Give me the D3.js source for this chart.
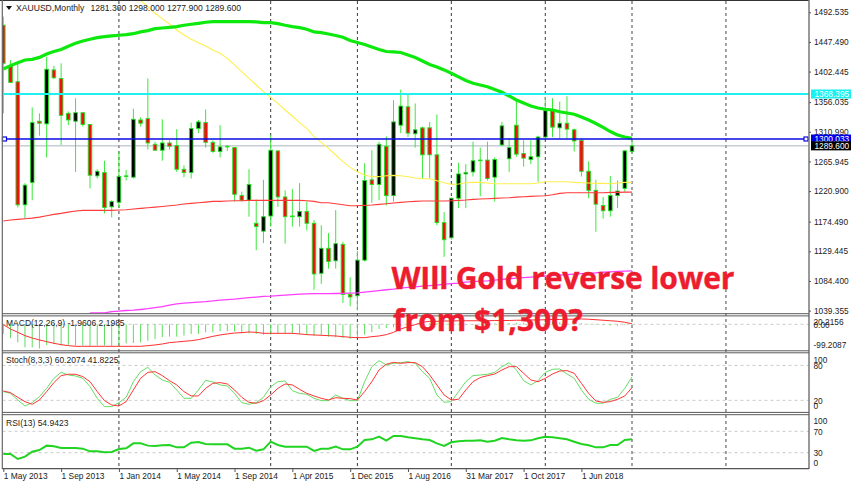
<!DOCTYPE html>
<html><head><meta charset="utf-8">
<script src="https://cdn.jsdelivr.net/npm/d3@7"></script>
<style>
html,body{margin:0;padding:0;background:#fff;overflow:hidden}
svg{display:block}
text{font-family:"Liberation Sans",Arial,sans-serif;fill:#222}
</style></head><body>
<svg id="c" width="852" height="485"></svg>
<script>
// ---- data ----
const opens=[1473,1411,1387,1200,1234,1327,1323,1405,1392,1339,
1327,1340,1322,1244,1249,1197,1204,1243,1242,1329,
1331,1292,1283,1294,1290,1254,1249,1316,1325,1295,
1281,1288,1287,1214,1207,1172,1160,1183,1282,1212,
1182,1182,1190,1172,1096,1134,1115,1140,1064,1062,
1116,1238,1231,1289,1214,1321,1349,1308,1317,1317,
1276,1173,1150,1210,1247,1250,1267,1268,1242,1291,
1270,1321,1278,1269,1273,1303,1344,1317,1324,1314,
1298,1251,1222,1199,1191,1214,1225,1281.3];
const closes=[1415,1386,1200,1230,1325,1324,1406,1393,1336,1329,
1340,1322,1245,1251,1196,1205,1243,1244,1330,1324,
1294,1283,1294,1289,1254,1249,1316,1326,1295,1281,
1288,1289,1216,1207,1231,1167,1182,1283,1212,1182,
1183,1190,1172,1095,1134,1114,1141,1064,1060,1116,
1237,1231,1292,1214,1326,1350,1309,1314,1276,1276,
1173,1147,1210,1247,1249,1267,1268,1240,1269,1320,
1287,1277,1271,1273,1303,1343,1318,1324,1315,1297,
1251,1222,1201,1191,1214,1221,1282,1289.6];
const highs=[1486,1420,1418,1233,1348,1339,1425,1411,1415,1342,
1362,1340,1323,1254,1267,1207,1281,1253,1346,1333,
1392,1296,1330,1298,1315,1260,1325,1329,1345,1298,
1321,1291,1288,1220,1254,1208,1238,1306,1282,1222,
1224,1233,1205,1177,1169,1157,1192,1144,1090,1130,
1263,1283,1296,1304,1359,1375,1367,1354,1319,1326,
1337,1189,1211,1264,1262,1296,1287,1296,1272,1326,
1301,1357,1298,1298,1305,1364,1362,1357,1365,1316,
1301,1266,1238,1212,1244,1237,1283,1298];
const lows=[1339,1385,1196,1179,1207,1305,1272,1391,1291,1321,
1250,1319,1225,1240,1187,1181,1195,1237,1240,1319,
1284,1282,1267,1284,1250,1242,1240,1309,1287,1279,
1272,1282,1205,1205,1182,1131,1142,1167,1197,1141,
1167,1167,1161,1071,1080,1103,1103,1051,1046,1040,
1114,1203,1207,1199,1205,1309,1303,1287,1240,1240,
1169,1121,1147,1195,1195,1243,1213,1237,1205,1289,
1250,1273,1258,1262,1235,1301,1303,1301,1301,1281,
1243,1210,1159,1179,1182,1195,1220,1277.9];
const maLime=[1406.4,1411.5,1416,1420,1421,1424,1429,1433,1436,1441,
1445.4,1449,1451.5,1454,1455.6,1456.6,1457.6,1458.6,1460,1462.7,
1464.7,1467.7,1468.7,1469.7,1470.8,1472.8,1474.3,1475.8,1477.4,1478.4,
1478.4,1478.4,1478.4,1478.4,1478.4,1477.9,1476.9,1476.9,1475.3,1472.8,
1470.8,1469.2,1466.7,1462.7,
1461.6,1459.6,1457.3,1454.6,1449.7,1446.7,1443.7,1439.9,1436,1433,
1432.3,1431.5,1427.7,1423.9,1418.6,1413.3,1409.5,1405,1399.9,1394.3,
1389,1384.7,1382.1,1379.5,1375.3,1371,1365.4,1359.3,1354.7,1350.2,
1347.1,1345.2,1344.1,1341.5,1339.5,1337.6,1333.5,1328.9,1323.6,1317.8,
1311.4,1306.1,1303,1301.1];
const maYellow=[null,null,null,null,null,null,null,null,null,null,
null,null,null,null,null,null,null,null,null,1510.3,
1501.2,1491,1482.9,1474.8,1465.7,1458.1,1451.5,1446.4,1441.4,1435.3,
1430.2,1422.6,1412.5,1402.4,1392.2,1382.1,1372,1363.3,1354.2,1344.1,
1335,1324.8,1316.2,1303.5,
1295,1285.8,1275.7,1265.6,1256.9,1250.4,1245.3,1242.8,1242.8,1244.3,
1244.8,1244.3,1242.8,1240.7,1239.7,1239.7,1236.7,1233.6,1231.1,1231.6,
1233.6,1234.1,1234.1,1233.1,1232.1,1232.1,1232.1,1232.1,1232.1,1232.1,
1233.1,1235.2,1235.2,1235.2,1235.2,1234.1,1233.6,1233.1,1232.6,1232.6,
1232.1,1233.1,1234.1,1234.1];
const maRed=[1175.4,1176.9,1177.9,1178.9,1179.9,1181.4,1183.5,1185.5,1187,1189,
1190.6,1191.6,1191.6,1191.6,1191.6,1191.6,1192.1,1192.6,1193.6,1194.6,
1195.6,1196.6,1197.6,1198.7,1199.7,1201.2,1202.2,1203.2,1204.2,1205.3,
1205.3,1205.8,1206.3,1206.3,1206.8,1206.8,1206.8,1206.8,1206.8,1206.8,
1206.8,1206.8,1206.3,1205.3,
1203.2,1203.2,1201.7,1200.2,1198.7,1198.7,1199.2,1199.7,1200.7,1201.7,
1202.7,1203.7,1204.8,1205.3,1205.8,1205.8,1205.8,1205.8,1206.3,1206.8,
1207.3,1208.3,1208.8,1209.3,1209.8,1210.3,1210.8,1211.8,1212.4,1212.9,
1213.4,1213.9,1215.4,1217.4,1218.4,1218.4,1218.4,1218.4,1218.4,1218.4,
1218.9,1218.9,1219.4,1219.4];
const maMagenta=[null,null,null,null,null,null,null,null,null,null,null,null,
1036,1036,1036,1037.7,1038.6,1039.5,1040,1041,
1042.2,1043.9,1045.4,1047.7,1049.5,1050.7,1051.5,1052.3,1053,1054,
1055.3,1056,1056.8,1057.9,1059,1059.9,1061,1061.4,1062.1,1062.9,
1063.7,1064.4,1064.9,1065,1065.2,1065.2,1065.3,1065.5,1066,1066.2,
1067.5,1068.5,1069.7,1071,1072,1073.5,1074.6,1075.5,1076.6,1077.3,
1078.1,1079.6,1080.4,1081.1,1082.7,1083.4,1084.2,1084.6,1085.7,1086.8,
1087.7,1088.7,1089.5,1090.3,1090.9,1091.8,1092.6,1093.3,1094.1,1094.8,
1095.4,1096,1096.8,1097.6,1098.2,1098.9,1099.4,1099.8];
const macdBars=[-38,-54,-71,-91,-91,-95,-81.5,-77.5,-84,-84,
-84,-84,-87,-84,-84,-87,-87,-75,-73.5,-71,
-64.4,-58,-51.2,-48.6,-48.6,-44.7,-38,-38,-31.6,-31.6,
-27.6,-27.6,-27.6,-35.5,-35.5,-38,-40.7,-40.7,-38,-38,
-38,-38,-42,-44.7,-44.7,-48.6,-51.2,-54,-58,-51.2,
-40.7,-31.6,-18.4,-14.5,-11.9,-6,-2,0,2,3,
4,3,1,-2,-3,-1,1,2,3,4,
5,6,6,5,5,7,8,8,8,7,
4,2,-2,-4,-5,-5,-3,-1.96];
const macdSignal=[-1.4,-18.4,-31.6,-44.7,-53.9,-61.7,-68.3,-74.9,-80.1,-84,
-86.7,-86.7,-86.7,-86.7,-86.7,-86.7,-86.7,-86.7,-86.7,-86.7,
-84,-81.4,-77.5,-72.2,-69.6,-67,-64.4,-60.4,-53.9,-47.3,
-42,-38,-34.2,-32.9,-30.2,-31.6,-35.5,-35.5,-35.5,-35.5,
-35.5,-38,-40.7,-42,-43.4,-44.7,-46,-48.6,-51.2,-52.6,
-52.6,-48.6,-46,-40.7,-31.6,-18.4,-9.3,-1.4,7.8,11.7,
11.7,13,13,14,14,14,14,14,15,15,
15,16,16,17,17,18,19,19,20,20,
21,20,18,16,14,12,8,2.2];
const stochMain=[35,32,20.6,10.3,16,26.4,40.6,57.8,68,63.5,
61.8,57.8,43.5,23.5,9.2,9.2,16,25.2,52,69.2,
76.7,63.5,55,51,37.8,23.5,23.5,37.8,54.4,51.5,
46.4,44.7,32,16,13.2,16,25.2,43.5,52,53.2,
36.6,32,30.4,23.5,19.5,19.5,
29.2,23.5,19.5,19.5,52,77.8,88.1,80.7,83.5,84.7,
86.4,83.5,69.2,57.8,29.2,16.6,17.8,35,52,62.4,
63.5,64.7,68,77.8,84.7,72.1,53.8,46.4,53.8,68,
73.2,73.8,65.2,57.8,37.8,21.8,15,15,21.8,25.2,
40.6,60.2];
const stochSignal=[36.1,33.2,25.2,17.8,13.2,20.6,35,50.4,62.4,64.7,
64.7,60.7,52,35,19.5,12,10.3,17.8,37.8,57.8,
68,69.2,62.4,53.8,46.4,35,27.5,27.5,40.6,49.2,
50.4,48.1,37.8,25.2,16.6,15,19.5,29.2,40.6,48.1,
46.4,38.9,32,27.5,23.5,20.6,
24.6,23.5,22.9,20.6,35,52,72.1,81.8,85.2,83.5,
84.7,84.7,77.8,63.5,46.4,29.2,20.6,21.8,37.8,52,
59,62.4,65.2,72.1,77.8,77.8,66.4,55,52,57.8,
65.2,70.4,71,66.4,49.2,32,18.9,16.6,17.8,21.8,
27.5,41.8];
const rsi=[27.6,27.6,18.2,22.6,31.9,35,43.2,41.9,38.8,38.8,
38.8,37.5,32.5,32.5,30.7,31.3,36.9,38.2,47.5,47.5,
43.2,42.5,43.8,44.4,40,40,48.8,50,46.3,45.6,
45.6,45.6,37.5,37.5,39.4,33.8,36.3,50.6,44.4,41.3,
41.3,41.3,41.3,33.2,37.5,37.5,
41.3,36.3,36.3,41.3,53.8,55,60,52.5,61.3,61.3,
58.8,56.9,55,53.8,47.5,42.5,49.4,51.3,52.5,52.5,
53.1,50.6,52.5,57.5,55,53.1,52.5,53.1,56.9,60,
58.8,56.9,55,50.6,46.3,43.8,40,40,44.4,44.4,
53.8,54.94];
const priceTicks=[1492.535,1447.49,1402.445,1356.035,1310.99,1265.945,1220.9,1174.49,1129.445,1084.4,1039.355];
const dateLabels=["1 May 2013","1 Sep 2013","1 Jan 2014","1 May 2014","1 Sep 2014","1 Apr 2015","1 Dec 2015","1 Aug 2016","31 Mar 2017","1 Oct 2017","1 Jun 2018"];
const dateIndex=[0,8,16,24,32,40,48,56,64,72,80];
const separators=[16,37,49,62,75,87,100];
const levels={cyan:1368.395,blue:1300.033,bid:1289.6};

// ---- scales ----
const svg=d3.select("#c");
const L=2.5,R=809;
const x=d3.scaleLinear().domain([0,87]).range([3.3,632]);
const yP=d3.scaleLinear().domain([1300.033,1368.395]).range([139,94]);
const yM=d3.scaleLinear().domain([0,-99.2087]).range([324.3,349.5]);
const yS=d3.scaleLinear().domain([0,100]).range([412,353.7]);
const yR=d3.scaleLinear().domain([0,100]).range([468.7,415.3]);
const defs=svg.append("defs");
defs.append("clipPath").attr("id","pc").append("rect").attr("x",L).attr("y",1).attr("width",R-L).attr("height",312.5);
defs.append("clipPath").attr("id","mc").append("rect").attr("x",L).attr("y",316.5).attr("width",R-L).attr("height",34);

// dashed pane levels
const hd=(y,c)=>svg.append("line").attr("x1",L).attr("x2",R).attr("y1",y).attr("y2",y)
  .attr("stroke",c||"#c4c4c4").attr("stroke-width",.9).attr("stroke-dasharray","3,3");
hd(yM(0));[80,20].forEach(v=>hd(yS(v)));[70,30].forEach(v=>hd(yR(v)));

// period separators
svg.append("g").selectAll("line").data(separators).join("line")
  .attr("x1",d=>x(d)).attr("x2",d=>x(d)).attr("y1",1).attr("y2",468)
  .attr("stroke",d=>d>=87?"#666":"#222").attr("stroke-width",d=>d>=87?1.2:.9).attr("stroke-dasharray","3,3");

// price pane
const pane=svg.append("g").attr("clip-path","url(#pc)");
const idx=d3.range(opens.length);
pane.append("line").attr("x1",L).attr("x2",R).attr("y1",yP(levels.bid)).attr("y2",yP(levels.bid)).attr("stroke","#aab4c0").attr("stroke-width",1);
pane.append("g").selectAll("line").data(idx).join("line")
  .attr("x1",x).attr("x2",x).attr("y1",i=>yP(highs[i])).attr("y2",i=>yP(lows[i]))
  .attr("stroke","#3be83b").attr("stroke-width",1);
pane.append("g").selectAll("rect").data(idx).join("rect")
  .attr("x",i=>x(i)-1.8).attr("width",3.6)
  .attr("y",i=>yP(Math.max(opens[i],closes[i])))
  .attr("height",i=>Math.abs(yP(opens[i])-yP(closes[i])))
  .attr("fill",i=>closes[i]>=opens[i]?"#000":"#f01010")
  .attr("stroke","#22e022").attr("stroke-width",.9);
const lineP=d3.line().defined(d=>d!=null).x((d,i)=>x(i)).y(d=>yP(d));
pane.append("path").attr("d",lineP(maYellow)).attr("fill","none").attr("stroke","#ffef4d").attr("stroke-width",1.1);
pane.append("path").attr("d",lineP(maRed)).attr("fill","none").attr("stroke","#ff3b3b").attr("stroke-width",1.1);
pane.append("path").attr("d",lineP(maMagenta)).attr("fill","none").attr("stroke","#ff3dff").attr("stroke-width",1.3);
pane.append("path").attr("d",lineP(maLime)).attr("fill","none").attr("stroke","#0de80d").attr("stroke-width",3.2);
pane.append("line").attr("x1",L).attr("x2",R).attr("y1",yP(levels.cyan)).attr("y2",yP(levels.cyan)).attr("stroke","#1ff0f0").attr("stroke-width",1.8);
pane.append("line").attr("x1",L).attr("x2",R).attr("y1",yP(levels.blue)).attr("y2",yP(levels.blue)).attr("stroke","#0a0ae6").attr("stroke-width",1.6);
[4.5,806].forEach(px=>svg.append("rect").attr("x",px-2).attr("y",yP(levels.blue)-2).attr("width",4).attr("height",4)
  .attr("fill","#fff").attr("stroke","#0a0ae6").attr("stroke-width",1.2));

// MACD
const mp=svg.append("g").attr("clip-path","url(#mc)");
mp.append("g").selectAll("line").data(idx).join("line")
  .attr("x1",x).attr("x2",x).attr("y1",yM(0)).attr("y2",i=>yM(macdBars[i]))
  .attr("stroke","#5fdc5f").attr("stroke-width",1);
mp.append("path").attr("d",d3.line().x((d,i)=>x(i)).y(d=>yM(d))(macdSignal)).attr("fill","none").attr("stroke","#ff2f2f").attr("stroke-width",1);

// Stoch
const ls=d3.line().x((d,i)=>x(i)).y(d=>yS(d));
svg.append("path").attr("d",ls(stochMain)).attr("fill","none").attr("stroke","#66dd66").attr("stroke-width",1);
svg.append("path").attr("d",ls(stochSignal)).attr("fill","none").attr("stroke","#ff3535").attr("stroke-width",1);

// RSI
svg.append("path").attr("d",d3.line().x((d,i)=>x(i)).y(d=>yR(d))(rsi)).attr("fill","none").attr("stroke","#22d422").attr("stroke-width",2);

// frames
const fr=(x1,y1,x2,y2,c,w)=>svg.append("line").attr("x1",x1).attr("y1",y1).attr("x2",x2).attr("y2",y2).attr("stroke",c).attr("stroke-width",w);
fr(0,.5,R,.5,"#333",1);
fr(2.3,0,2.3,469,"#666",1.2);
fr(R,0,R,469,"#777",1.5);
[313.7,315.9,350.8,352.8,412.4,414.7].forEach(y=>fr(L,y,R,y,"#5a5a5a",1));
fr(2,468.6,R,468.6,"#555",1.2);

// axes through d3
const fs=8.3;
const styleAxis=g=>{g.select(".domain").remove();g.selectAll("line").attr("stroke","#555");g.selectAll("text").attr("font-size",fs).attr("fill","#222");};
svg.append("g").attr("transform",`translate(${R},0)`)
  .call(d3.axisRight(yP).tickValues(priceTicks).tickFormat(d3.format(".3f")).tickSize(2).tickPadding(3))
  .call(styleAxis).selectAll("text").attr("font-family","Liberation Sans");
svg.append("g").attr("transform","translate(0,469)")
  .call(d3.axisBottom(x).tickValues(dateIndex).tickFormat((d,i)=>dateLabels[i]).tickSize(3).tickPadding(1))
  .call(styleAxis).selectAll("text").attr("text-anchor","start").attr("dx",0).attr("font-size",8.4);

// pane scale labels
const lab=(t,y)=>svg.append("text").attr("x",813.5).attr("y",y+3).attr("font-size",fs).text(t);
lab("20.2156",322);lab("0.00",325);lab("-99.2087",345);
lab("100",359.5);lab("80",365.5);lab("20",400.5);lab("0",406);
lab("100",420.5);lab("70",431.5);lab("30",453);lab("0",463);

// price label boxes
const box=(v,bg)=>{const y=yP(v);
  svg.append("rect").attr("x",811).attr("y",y-4.5).attr("width",40).attr("height",9).attr("fill",bg);
  svg.append("text").attr("x",814.5).attr("y",y+3).attr("font-size",fs).style("fill","#fff").text(d3.format(".3f")(v));};
box(levels.cyan,"#19f0f0");box(levels.blue,"#0000e6");box(levels.bid,"#000");

// header and indicator names
svg.append("path").attr("d",d3.line()([[6,6],[12,6],[9,10]])+"Z").attr("fill","#111");
svg.append("text").attr("x",16).attr("y",11).attr("font-size",8.6).text("XAUUSD,Monthly");
svg.append("text").attr("x",90.5).attr("y",11).attr("font-size",8.6).text("1281.300 1298.000 1277.900 1289.600");
svg.append("text").attr("x",6).attr("y",326).attr("font-size",8.5).text("MACD(12,26,9) -1.9606 2.1985");
svg.append("text").attr("x",6).attr("y",363).attr("font-size",8.5).text("Stoch(8,3,3) 60.2074 41.8225");
svg.append("text").attr("x",6).attr("y",425.5).attr("font-size",8.5).text("RSI(13) 54.9423");

// annotation
const ann=(t,xx,yy,ls)=>svg.append("text").attr("x",xx).attr("y",yy).attr("font-size",30).attr("font-weight",700)
  .style("font-family","'Open Sans',sans-serif").style("letter-spacing",ls+"px").style("fill","#ed1c2e")
  .style("stroke","#ed1c2e").style("stroke-width",.4).text(t);
ann("WIll Gold reverse lower",391.5,289,-.15);
ann("from $1,300?",393,331,0);
</script></body></html>
